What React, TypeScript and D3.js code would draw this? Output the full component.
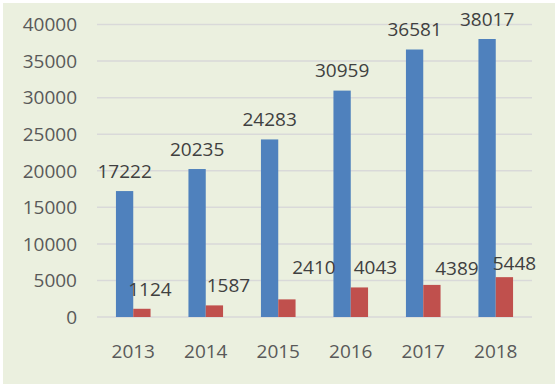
import React, { useEffect, useRef } from "react";
import * as d3 from "d3";

const years = ["2013", "2014", "2015", "2016", "2017", "2018"];
const blueValues = [17222, 20235, 24283, 30959, 36581, 38017];
const redValues = [1124, 1587, 2410, 4043, 4389, 5448];
const yTicks = [0, 5000, 10000, 15000, 20000, 25000, 30000, 35000, 40000];

// the red labels were dragged by hand in the original, so nudge them a bit
const redLabelNudge = [[8, 1], [14, 0], [27, -12], [16, 0], [25, 4], [10, 6]];

const width = 555, height = 386;
const plot = { left: 97, right: 532, top: 24.5, bottom: 317 };

export default function App() {
  const ref = useRef<HTMLDivElement>(null);

  useEffect(() => {
    const root = d3.select(ref.current);
    root.selectAll("*").remove();

    const svg = root.append("svg")
      .attr("width", width)
      .attr("height", height)
      .style("display", "block");

    svg.append("rect")
      .attr("width", width).attr("height", height)
      .attr("fill", "#ffffff");
    svg.append("rect")
      .attr("x", 3).attr("y", 3)
      .attr("width", width - 3).attr("height", height - 5)
      .attr("fill", "#ebf0df");

    const x = d3.scaleBand().domain(years).range([plot.left, plot.right]);
    const y = d3.scaleLinear().domain([0, 40000]).range([plot.bottom, plot.top]);

    // gap width 219% like excel
    const band = x.bandwidth();
    const group = band * 2 / (2 + 2.19);
    const inner = d3.scaleBand()
      .domain(["blue", "red"])
      .range([(band - group) / 2, (band + group) / 2]);

    const font = "'Open Sans', 'Noto Sans', sans-serif";

    svg.append("g").selectAll("line")
      .data(yTicks)
      .enter().append("line")
      .attr("x1", plot.left).attr("x2", plot.right)
      .attr("y1", d => y(d)).attr("y2", d => y(d))
      .attr("stroke", "#d9d9d9")
      .attr("stroke-width", 1.5);

    svg.append("g").selectAll("text")
      .data(yTicks)
      .enter().append("text")
      .attr("x", 77)
      .attr("y", d => y(d))
      .attr("dy", "0.36em")
      .attr("text-anchor", "end")
      .style("font", "19px " + font)
      .attr("fill", "#595959")
      .text(d => d);

    svg.append("g").selectAll("text")
      .data(years)
      .enter().append("text")
      .attr("x", d => x(d)! + band / 2)
      .attr("y", 358)
      .attr("text-anchor", "middle")
      .style("font", "19px " + font)
      .attr("fill", "#595959")
      .text(d => d);

    const bars = [
      { key: "blue", values: blueValues, color: "#4f81bd" },
      { key: "red", values: redValues, color: "#c0504d" },
    ];

    bars.forEach(s => {
      svg.append("g").selectAll("rect")
        .data(s.values)
        .enter().append("rect")
        .attr("x", (d, i) => x(years[i])! + inner(s.key)!)
        .attr("y", d => y(d))
        .attr("width", inner.bandwidth())
        .attr("height", d => plot.bottom - y(d))
        .attr("fill", s.color);
    });

    bars.forEach(s => {
      svg.append("g").selectAll("text")
        .data(s.values)
        .enter().append("text")
        .attr("x", (d, i) => x(years[i])! + inner(s.key)! + inner.bandwidth() / 2
          + (s.key === "red" ? redLabelNudge[i][0] : 0))
        .attr("y", (d, i) => y(d) - 13.5 + (s.key === "red" ? redLabelNudge[i][1] : 0))
        .attr("text-anchor", "middle")
        .style("font", "19px " + font)
        .attr("fill", "#404040")
        .text(d => d);
    });
  }, []);

  return <div ref={ref} style={{ position: "absolute", left: 0, top: 0 }}></div>;
}
